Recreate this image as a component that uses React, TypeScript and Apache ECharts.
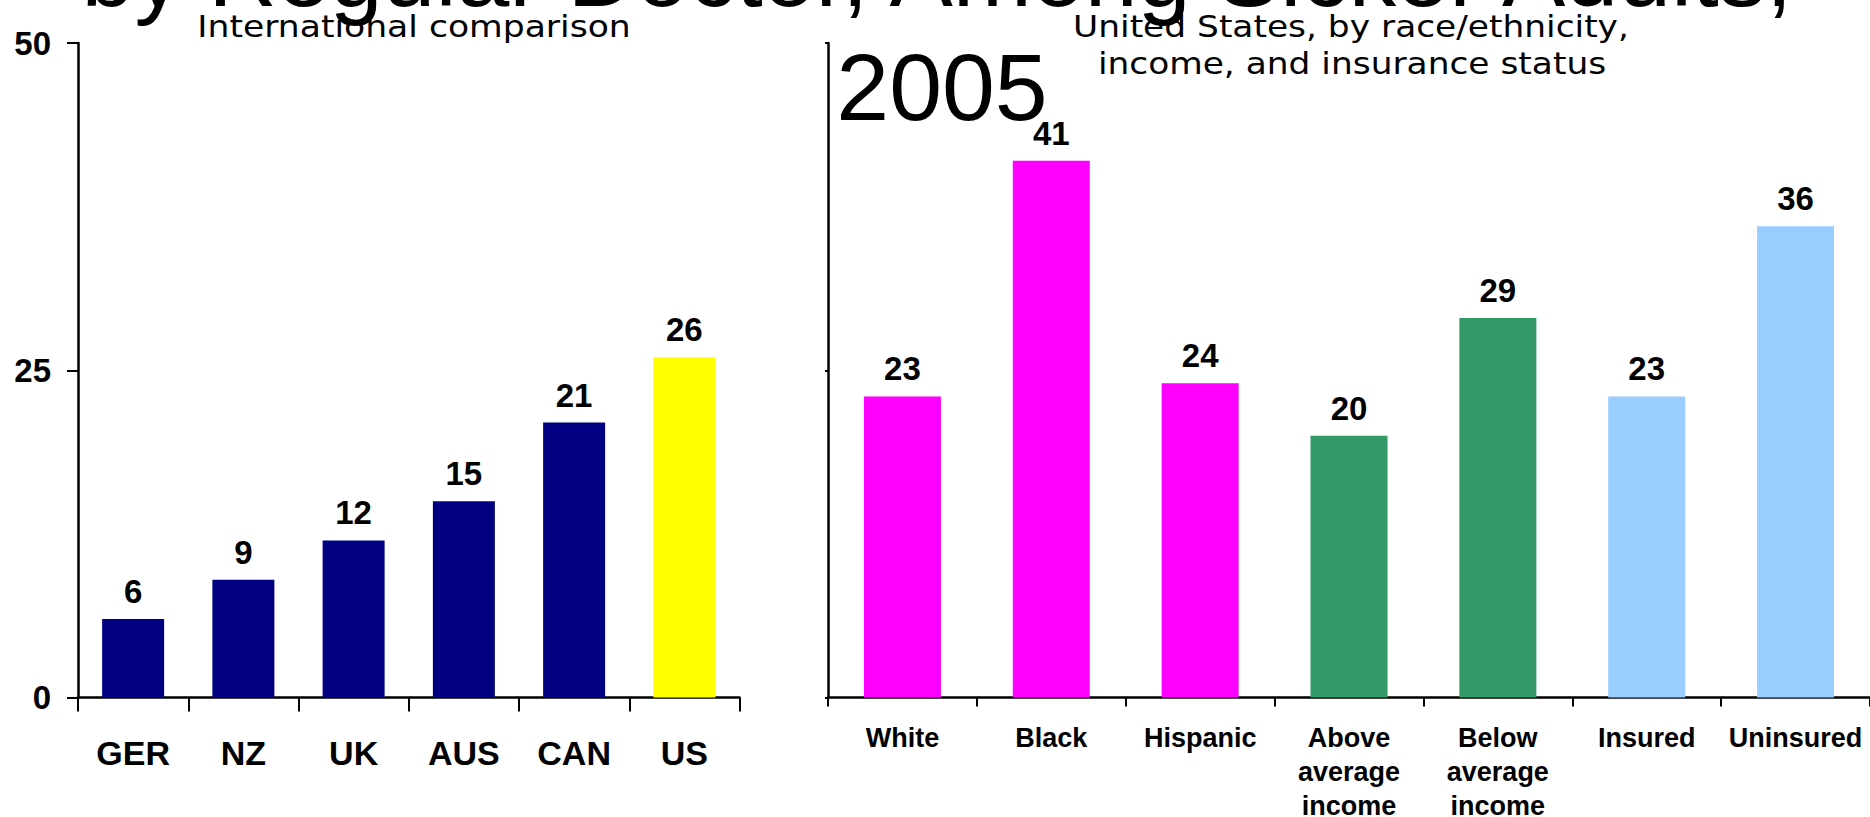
import React, { useEffect, useRef } from 'react';
import * as echarts from 'echarts';

// ---- Data ----
const intlCategories = ['GER', 'NZ', 'UK', 'AUS', 'CAN', 'US'];
const intlValues = [6, 9, 12, 15, 21, 26];
const intlColors = ['#000080', '#000080', '#000080', '#000080', '#000080', '#FFFF00'];

const usCategories = [
  'White',
  'Black',
  'Hispanic',
  'Above\naverage\nincome',
  'Below\naverage\nincome',
  'Insured',
  'Uninsured',
];
const usValues = [23, 41, 24, 20, 29, 23, 36];
const usColors = ['#FF00FF', '#FF00FF', '#FF00FF', '#339966', '#339966', '#99CCFF', '#99CCFF'];

const yMin = 0;
const yMax = 50;
const yInterval = 25;

const titleLines = ['by Regular Doctor, Among Sicker Adults,', '2005'];
const leftSubtitle = 'International comparison';
const rightSubtitle = ['United States, by race/ethnicity,', 'income, and insurance status'];

const FONT = '"Liberation Sans", Arial, Helvetica, sans-serif';
const SUBFONT = '"DejaVu Sans", Verdana, sans-serif';

function textEl(text: string, x: number, y: number, size: number, family: string, scaleX = 1) {
  return {
    type: 'text',
    x,
    y,
    scaleX,
    silent: true,
    style: {
      text,
      fill: '#000',
      fontSize: size,
      fontFamily: family,
      fontWeight: 'normal',
      align: 'center',
      verticalAlign: 'middle',
      textAlign: 'center',
      textVerticalAlign: 'middle',
    },
  };
}

export default function App() {
  const ref = useRef<HTMLDivElement>(null);

  useEffect(() => {
    if (!ref.current) return;
    const chart = echarts.init(ref.current, null, { renderer: 'svg' });

    const axisLineStyle = { color: '#000', width: 2.5 };
    const barLabel = {
      show: true,
      position: 'top',
      distance: 11,
      fontSize: 33,
      fontWeight: 'bold',
      color: '#000',
      fontFamily: FONT,
    };

    const option: any = {
      animation: false,
      backgroundColor: '#fff',
      grid: [
        { left: 78, top: 43, width: 661.5, height: 654.5, containLabel: false, outerBoundsMode: 'none' },
        { left: 828, top: 43, width: 1042, height: 654.5, containLabel: false, outerBoundsMode: 'none' },
      ],
      xAxis: [
        {
          type: 'category',
          gridIndex: 0,
          data: intlCategories,
          axisLine: { show: true, lineStyle: axisLineStyle },
          axisTick: { show: true, length: 14, lineStyle: { color: '#000', width: 2 } },
          axisLabel: {
            interval: 0,
            color: '#000',
            fontFamily: FONT,
            fontWeight: 'bold',
            fontSize: 34,
            margin: 38,
          },
          splitLine: { show: false },
        },
        {
          type: 'category',
          gridIndex: 1,
          data: usCategories,
          axisLine: { show: true, lineStyle: axisLineStyle },
          axisTick: { show: true, length: 9, lineStyle: { color: '#000', width: 2 } },
          axisLabel: {
            interval: 0,
            color: '#000',
            fontFamily: FONT,
            fontWeight: 'bold',
            fontSize: 27,
            lineHeight: 34,
            margin: 23.5,
          },
          splitLine: { show: false },
        },
      ],
      yAxis: [
        {
          type: 'value',
          gridIndex: 0,
          min: yMin,
          max: yMax,
          interval: yInterval,
          axisLine: { show: true, lineStyle: axisLineStyle },
          axisTick: { show: true, length: 11, lineStyle: { color: '#000', width: 2 } },
          axisLabel: {
            color: '#000',
            fontFamily: FONT,
            fontWeight: 'bold',
            fontSize: 33,
            margin: 27,
            padding: [12, 0, 0, 0],
          },
          splitLine: { show: false },
        },
        {
          type: 'value',
          gridIndex: 1,
          min: yMin,
          max: yMax,
          interval: yInterval,
          axisLine: { show: true, lineStyle: axisLineStyle },
          axisTick: { show: true, length: 3, lineStyle: { color: '#000', width: 2 } },
          axisLabel: { show: false },
          splitLine: { show: false },
        },
      ],
      series: [
        {
          type: 'bar',
          xAxisIndex: 0,
          yAxisIndex: 0,
          barWidth: 62,
          data: intlValues.map((v, i) => ({ value: v, itemStyle: { color: intlColors[i] } })),
          label: barLabel,
        },
        {
          type: 'bar',
          xAxisIndex: 1,
          yAxisIndex: 1,
          barWidth: 77,
          data: usValues.map((v, i) => ({ value: v, itemStyle: { color: usColors[i] } })),
          label: barLabel,
        },
      ],
      graphic: [
        textEl(leftSubtitle, 414, 26.6, 31, SUBFONT, 1.115),
        textEl(rightSubtitle[0], 1351, 26.6, 31, SUBFONT, 1.11),
        textEl(rightSubtitle[1], 1352, 63.3, 31, SUBFONT, 1.11),
        textEl(titleLines[0], 937, -27, 95, FONT),
        textEl(titleLines[1], 942, 87.1, 95, FONT),
      ],
    };

    chart.setOption(option);
    return () => {
      chart.dispose();
    };
  }, []);

  return (
    <div
      ref={ref}
      style={{ position: 'absolute', left: 0, top: 0, width: 1870, height: 817, background: '#fff' }}
    />
  );
}
